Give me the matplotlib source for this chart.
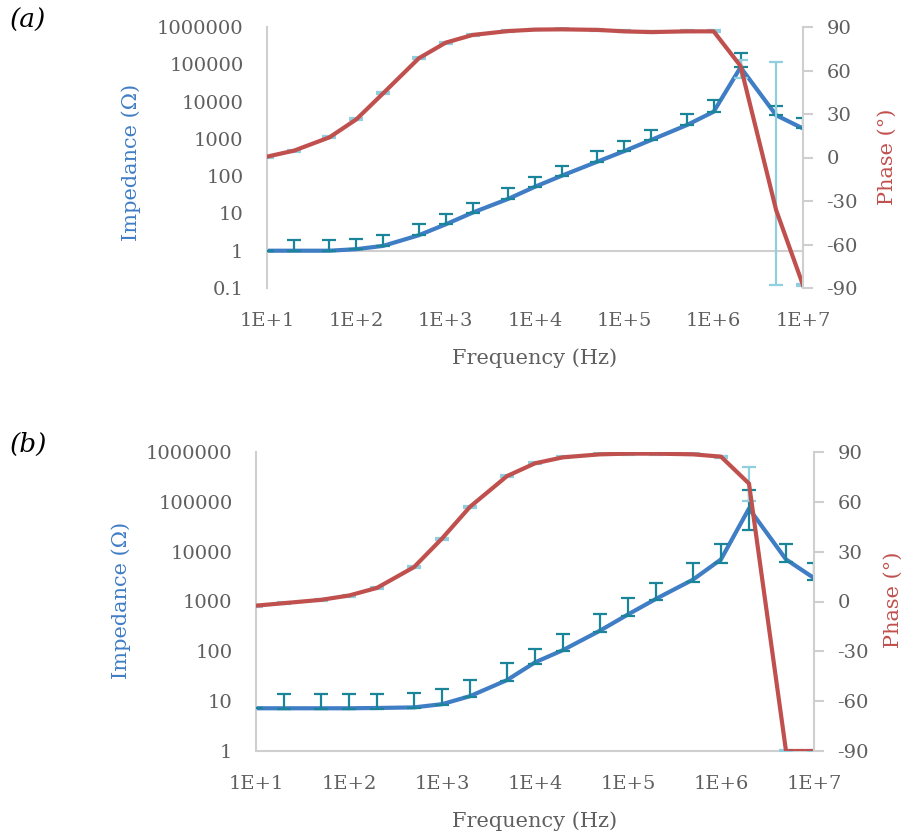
import matplotlib
matplotlib.use("Agg")
import matplotlib.pyplot as plt
import numpy as np

plt.rcParams['font.family'] = ['DejaVu Serif']
plt.rcParams['axes.unicode_minus'] = False

# ---------------- data ----------------
freq = [10, 20, 50, 100, 200, 500, 1e3, 2e3, 5e3, 1e4, 2e4, 5e4, 1e5, 2e5, 5e5,
        1e6, 2e6, 5e6, 1e7]

# panel (a)
imp_a = [1.0, 1.0, 1.0, 1.1, 1.35, 2.6, 5.1, 10.5, 24.5, 52, 103, 245, 470, 935,
         2340, 5350, 83000, 4300, 1900]
imp_a_err_up = [0, 0.95, 0.95, 1.0, 1.35, 2.6, 4.8, 9, 22.5, 45, 87, 225, 410, 815,
                2260, 5550, 117000, 3400, 1800]
imp_a_err_dn = [0] * 19
ph_a = [0.6, 4.7, 13.9, 26.3, 44.3, 68.4, 79.2, 84.5, 87.2, 88.2, 88.4, 88.0, 87.0,
        86.5, 87.0, 87.0, 63.1, -36.2, -88.0]
ph_a_err_up = [0.6] * 16 + [4, 102, 0.6]
ph_a_err_dn = [0.6] * 16 + [8, 52, 0.6]

# panel (b)
imp_b = [7.2, 7.2, 7.2, 7.2, 7.3, 7.5, 8.7, 12.6, 26.5, 60, 106, 260, 550, 1130,
         2750, 7000, 73600, 7000, 2950]
imp_b_err_up = [0, 6.6, 6.6, 6.6, 6.5, 7.4, 8.8, 13.9, 32.5, 51, 117, 305, 620, 1210,
                3250, 7500, 96400, 7000, 3050]
imp_b_err_dn = [0, 0.3, 0.3, 0.3, 0.3, 0.3, 0.4, 0.6, 1.5, 4, 6, 15, 30, 70, 250,
                1000, 45900, 700, 250]
ph_b = [-2.5, -1.0, 1.0, 3.6, 8.2, 20.7, 37.9, 57.0, 75.5, 83.2, 86.8, 88.6, 89.0,
        89.0, 88.6, 87.2, 71.0, -90.0, -90.0]
ph_b_err_up = [0.6] * 16 + [9.7, 0.6, 0.6]
ph_b_err_dn = [0.6] * 16 + [10.6, 0.6, 0.6]

x_ticks = [1e1, 1e2, 1e3, 1e4, 1e5, 1e6, 1e7]
x_tick_labels = ["1E+1", "1E+2", "1E+3", "1E+4", "1E+5", "1E+6", "1E+7"]
ph_ticks = [-90, -60, -30, 0, 30, 60, 90]

# ---------------- style ----------------
BLUE = '#3F7DC5'
RED = '#C0504D'
TEAL = '#1A8598'
LIGHT = '#8FCFE0'
GRID = '#CFCFCF'
TXT = '#5F5F5F'
FS = 14

W, H = 907, 836
fig = plt.figure(figsize=(W / 100, H / 100), dpi=100)


def px_axes(l, t, r, b):
    return fig.add_axes([l / W, 1 - b / H, (r - l) / W, (b - t) / H])


def panel(box, imp, e_up, e_dn, ph, p_up, p_dn, ylim, yticks, ylabels,
          cross_at_one, label, lab_xy, imp_lab_xy, ph_lab_xy, freq_lab_y):
    ax = px_axes(*box)
    ax.set_xscale('log')
    ax.set_yscale('log')
    ax.set_xlim(1e1, 1e7)
    ax.set_ylim(*ylim)
    ax.plot(freq, imp, color=BLUE, lw=3.0, solid_joinstyle='round', zorder=2)
    ax.errorbar(freq, imp, yerr=[e_dn, e_up], fmt='none', ecolor=TEAL,
                elinewidth=1.6, capsize=5, capthick=1.6, zorder=3)
    ax.set_xticks(x_ticks)
    ax.set_xticklabels(x_tick_labels)
    ax.set_yticks(yticks)
    ax.set_yticklabels(ylabels)
    ax.minorticks_off()
    ax.tick_params(axis='x', length=0, pad=17, labelsize=FS, colors=TXT)
    ax.tick_params(axis='y', length=0, pad=17, labelsize=FS, colors=TXT)
    for s in ['top', 'right']:
        ax.spines[s].set_visible(False)
    ax.spines['left'].set_color(GRID)
    ax.spines['left'].set_linewidth(1.5)
    if cross_at_one:
        ax.spines['bottom'].set_visible(False)
        ax.axhline(1, color=GRID, lw=1.5, zorder=1)
    else:
        ax.spines['bottom'].set_color(GRID)
        ax.spines['bottom'].set_linewidth(1.5)

    ax2 = ax.twinx()
    ax2.set_ylim(-90, 90)
    ax2.plot(freq, ph, color=RED, lw=3.0, solid_joinstyle='round', zorder=2)
    ax2.errorbar(freq, ph, yerr=[p_dn, p_up], fmt='none', ecolor=LIGHT,
                 elinewidth=1.6, capsize=5, capthick=1.6, zorder=1)
    ax2.set_yticks(ph_ticks)
    ax2.set_yticklabels([str(v) for v in ph_ticks])
    ax2.tick_params(axis='y', length=7, width=1.5, color=GRID, pad=10,
                    labelsize=FS, colors=TXT)
    ax2.tick_params(axis='y', color=GRID)
    for s in ['top', 'left', 'bottom']:
        ax2.spines[s].set_visible(False)
    ax2.spines['right'].set_color(GRID)
    ax2.spines['right'].set_linewidth(1.5)

    fig.text(lab_xy[0] / W, 1 - lab_xy[1] / H, label, fontsize=19,
             style='italic', ha='left', va='center', color='black')
    fig.text(imp_lab_xy[0] / W, 1 - imp_lab_xy[1] / H, "Impedance (Ω)",
             fontsize=15, rotation=90, ha='center', va='center', color=BLUE)
    fig.text(ph_lab_xy[0] / W, 1 - ph_lab_xy[1] / H, "Phase (°)",
             fontsize=15, rotation=90, ha='center', va='center', color=RED)
    fig.text(((box[0] + box[2]) / 2) / W, 1 - freq_lab_y / H, "Frequency (Hz)",
             fontsize=15, ha='center', va='center', color=TXT)
    return ax, ax2


ya_ticks = [0.1, 1, 10, 100, 1000, 10000, 100000, 1000000]
ya_labels = ["0.1", "1", "10", "100", "1000", "10000", "100000", "1000000"]
panel((267, 27, 803, 288), imp_a, imp_a_err_up, imp_a_err_dn, ph_a,
      ph_a_err_up, ph_a_err_dn, (0.1, 1e6), ya_ticks, ya_labels, True,
      "(a)", (10, 20), (131, 162), (887, 157), 358)

yb_ticks = [1, 10, 100, 1000, 10000, 100000, 1000000]
yb_labels = ["1", "10", "100", "1000", "10000", "100000", "1000000"]
panel((256, 452, 814, 751), imp_b, imp_b_err_up, imp_b_err_dn, ph_b,
      ph_b_err_up, ph_b_err_dn, (1, 1e6), yb_ticks, yb_labels, False,
      "(b)", (10, 444), (121, 600), (893, 600), 821)

fig.savefig("out.png", dpi=100)
